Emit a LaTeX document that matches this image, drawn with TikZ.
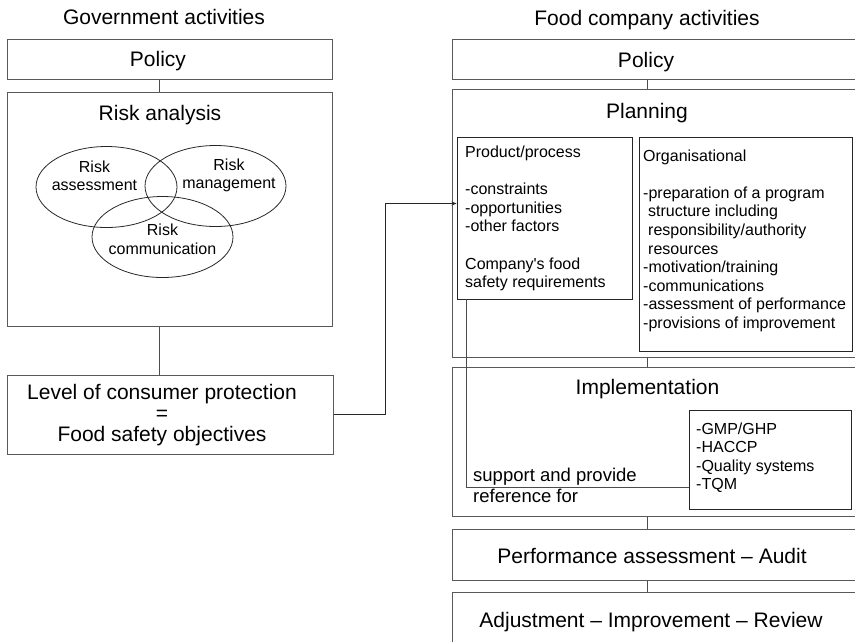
\documentclass[tikz,border=0pt]{standalone}
\usepackage{fontspec}
\setmainfont{Liberation Sans}[Ligatures=TeXOff]
\usetikzlibrary{shapes.geometric,arrows.meta}
\newcommand\bigf{\fontsize{21}{21}\selectfont}
\newcommand\midf{\fontsize{18.5}{21}\selectfont}
\newcommand\smallf{\fontsize{16}{18.6}\selectfont}
\begin{document}
\begin{tikzpicture}[x=1pt,y=-1pt,
  box/.style={draw=black!65, line width=1pt, inner sep=0pt},
  ibox/.style={draw=black!85, line width=0.9pt, inner sep=0pt},
  conn/.style={draw=black!70, line width=0.9pt},
  ell/.style={ellipse, draw=black!85, line width=0.8pt, inner sep=0pt, minimum width=141pt, minimum height=81pt},
  txt/.style={inner sep=0pt, anchor=base, text=black}]
\useasboundingbox (0,0) rectangle (855,641);
\clip (0,0) rectangle (855,641);
% titles
\node[txt] (tgov) at (164,24) {\bigf Government activities};
\node[txt] (tfood) at (647,25.5) {\bigf Food company activities};
% left column
\node[box, minimum width=325pt, minimum height=40pt] (gpol) at (169.5,59) {};
\node[txt] (gpolt) at (158,66.7) {\bigf Policy};
\node[box, minimum width=325pt, minimum height=234pt] (ra) at (169.5,209) {};
\node[txt] (rat) at (160,120) {\bigf Risk analysis};
\node[ell] (ea) at (106.5,187) {};
\node[ell] (em) at (215.5,186) {};
\node[ell] (ec) at (162.5,237) {};
\node[txt] (eat) at (94.5,172) {\smallf\begin{tabular}[t]{@{}c@{}}Risk\\assessment\end{tabular}};
\node[txt] (emt) at (229,170) {\smallf\begin{tabular}[t]{@{}c@{}}Risk\\management\end{tabular}};
\node[txt] (ect) at (162.5,235.5) {\smallf\begin{tabular}[t]{@{}c@{}}Risk\\communication\end{tabular}};
\node[box, minimum width=326pt, minimum height=79pt] (lvl) at (170,414.5) {};
\node[txt] (lvlt) at (162,399) {\bigf\begin{tabular}[t]{@{}c@{}}Level of consumer protection\\=\\Food safety objectives\end{tabular}};
\coordinate (gx) at (159,0);
\draw[conn] (gpol.south -| gx) -- (ra.north -| gx);
\draw[conn] (ra.south -| gx) -- (lvl.north -| gx);
% right column
\node[box, minimum width=406pt, minimum height=40pt] (fpol) at (655,59) {};
\node[txt] (fpolt) at (646,67.7) {\bigf Policy};
\node[box, minimum width=406pt, minimum height=268pt] (plan) at (655,223) {};
\node[txt] (plant) at (647,118) {\bigf Planning};
\node[ibox, minimum width=175pt, minimum height=162pt] (pp) at (544.5,218) {};
\node[txt, anchor=base west] (ppt) at (465,157.5) {\smallf\begin{tabular}[t]{@{}l@{}}Product/process\\ \\-constraints\\-opportunities\\-other factors\\ \\Company's food\\safety requirements\end{tabular}};
\node[ibox, minimum width=213pt, minimum height=214pt] (org) at (745.5,244) {};
\node[txt, anchor=base west] (orgt) at (643,161) {\smallf\begin{tabular}[t]{@{}l@{}}Organisational\\ \\-preparation of a program\\\hspace{5pt}structure including\\\hspace{5pt}responsibility/authority\\\hspace{5pt}resources\\-motivation/training\\-communications\\-assessment of performance\\-provisions of improvement\end{tabular}};
\node[box, minimum width=406pt, minimum height=149pt] (impl) at (655,441.5) {};
\node[txt] (implt) at (647.5,394) {\bigf Implementation};
\node[ibox, minimum width=162pt, minimum height=99pt] (gmp) at (770,459.5) {};
\node[txt, anchor=base west] (gmpt) at (696,434) {\smallf\begin{tabular}[t]{@{}l@{}}-GMP/GHP\\-HACCP\\-Quality systems\\-TQM\end{tabular}};
\node[txt, anchor=base west] (supt) at (473,481) {\midf\begin{tabular}[t]{@{}l@{}}support and provide\\reference for\end{tabular}};
\node[box, minimum width=406pt, minimum height=51pt] (perf) at (655,554.5) {};
\node[txt] (perft) at (652,563) {\bigf Performance assessment – Audit};
\node[box, minimum width=406pt, minimum height=73pt] (adj) at (655,628.5) {};
\node[txt] (adjt) at (651,627) {\bigf Adjustment – Improvement – Review};
\coordinate (fx) at (647,0);
\draw[conn] (fpol.south -| fx) -- (plan.north -| fx);
\draw[conn] (plan.south -| fx) -- (impl.north -| fx);
\draw[conn] (impl.south -| fx) -- (perf.north -| fx);
\draw[conn] (perf.south -| fx) -- (adj.north -| fx);
% support connector
\coordinate (sp) at (466,487);
\draw[conn] (pp.south -| sp) -- (sp) -- (gmp.west |- sp);
% cross connector
\coordinate (bend) at (385,203.5);
\draw[conn, draw=black!85, -{Stealth[length=5pt,width=4pt]}] (lvl.east) -| (bend) -- (pp.west |- bend);
\end{tikzpicture}
\end{document}
